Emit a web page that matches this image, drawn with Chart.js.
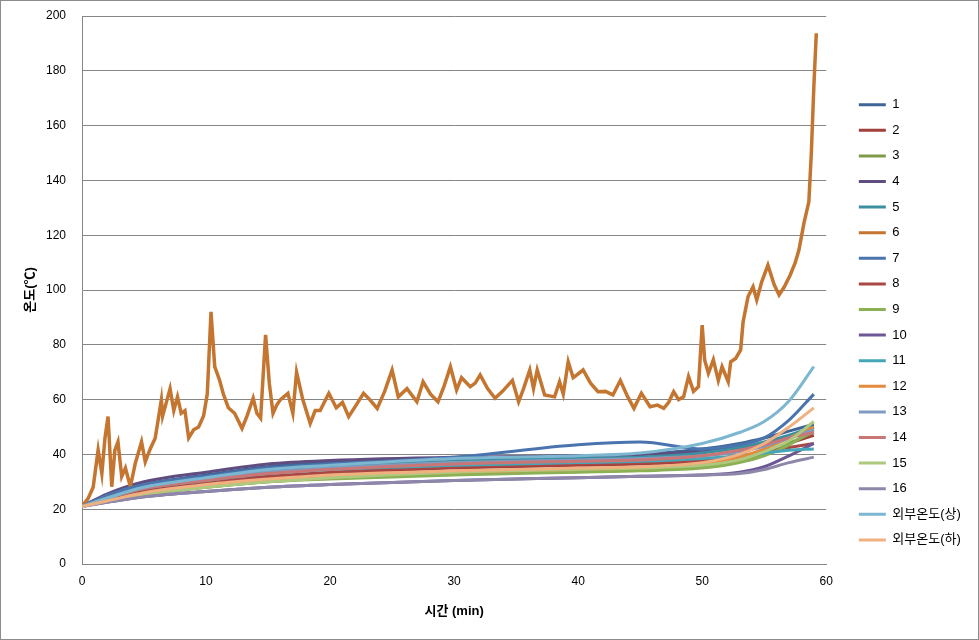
<!DOCTYPE html>
<html>
<head>
<meta charset="utf-8">
<script src="https://cdn.jsdelivr.net/npm/chart.js@4"></script>
<style>
  html, body { margin: 0; padding: 0; background: #fff; }
  #wrap { width: 979px; height: 640px; box-sizing: border-box; border: 1px solid #8c8c8c; }
</style>
</head>
<body>
<div id="wrap"><canvas id="grafico" width="977" height="638"></canvas></div>
<script>
// series names (legend order)
const nomes = ["1","2","3","4","5","6","7","8","9","10","11","12","13","14","15","16","외부온도(상)","외부온도(하)"];
const cores = ["#3F6597","#A13F3C","#7E9B4A","#5F4D80","#3B8FA0","#C47530","#4A74AE","#A94744","#8CB054","#6C5894","#45A6B8","#E48A3C","#7F9BC0","#C87676","#AEC97E","#8E87AA","#7CB6D0","#F0B080"];

// time (min) for the smooth sensors
const tempo = [0, 2, 5, 10, 15, 20, 30, 40, 45, 50, 53, 55, 57, 59];
const s1  = [21, 25, 29, 32.5, 35.5, 37, 38.5, 39.5, 40, 42, 44, 46, 48.5, 51];
const s2  = [21, 23.5, 26.5, 29.5, 31.5, 33, 35, 36, 36.5, 37.5, 39, 41, 44, 47];
const s3  = [21, 23, 25.5, 28, 30, 31.5, 33, 34, 34.5, 35.5, 37.5, 40, 44, 48];
const s4  = [21, 25.5, 30, 33.5, 36.5, 37.8, 39, 39.5, 40, 41, 42.5, 44, 46.5, 50];
const s5  = [21, 24.5, 28.5, 31.5, 34, 35.5, 37.5, 38.5, 39, 40.5, 42.5, 44.5, 47, 50];
const s7  = [21, 25, 29, 32, 35, 36.5, 39, 43.5, 44.5, 42, 43.5, 46, 52.5, 62];
const s8  = [21, 23.5, 27, 30, 32, 33.5, 35.5, 36.5, 37, 38, 39.5, 41, 42.5, 44];
const s9  = [21, 23, 25.5, 28, 30, 31, 32.5, 33.5, 34, 35, 37, 39.5, 43.5, 49];
const s10 = [21, 22.5, 24.5, 26.5, 28, 29, 30.5, 31.5, 32, 32.5, 33.5, 35.5, 39.5, 44];
const s11 = [21, 24, 27.5, 30.5, 33, 34.5, 36, 37, 37.5, 38.5, 39.5, 40.5, 41.5, 42];
const s12 = [21, 23, 25.5, 28.5, 30.5, 32, 33.5, 34.5, 35, 36.5, 39, 42, 46, 50];
const s13 = [21, 24, 28, 31, 33.5, 35, 37, 38, 38.5, 39.5, 41, 43, 46, 49];
const s14 = [21, 24, 27.5, 30.5, 33, 34.5, 36.5, 37.5, 38, 39.5, 41.5, 43.5, 46, 48];
const s15 = [21, 23, 25.5, 28, 30, 31.5, 33.5, 34.5, 35, 36, 38, 41, 45, 52];
const s16 = [21, 22.5, 24.5, 26.5, 28, 29, 30.5, 31.5, 32, 32.5, 33, 34.5, 37, 39];
const sCima  = [21, 24, 28, 31.5, 34.5, 36, 38.5, 39.5, 40.5, 44, 48, 52, 59.5, 72];
const sBaixo = [21, 23, 26, 29, 31, 32.5, 34, 35, 35.5, 37, 40, 44, 50, 57];

// sensor 6 (noisy) has its own time base
const tempo6 = [0,0.5,0.9,1.3,1.6,1.85,2.1,2.4,2.65,2.9,3.2,3.5,3.9,4.3,4.8,5.1,5.5,5.9,6.4,6.5,6.8,7.1,7.4,7.7,8.0,8.3,8.6,9.0,9.4,9.8,10.1,10.4,10.7,11.1,11.4,11.8,12.3,12.9,13.3,13.8,14.1,14.4,14.8,15.1,15.4,15.7,16.0,16.6,17.0,17.3,17.8,18.4,18.8,19.2,19.9,20.5,21.0,21.5,22.1,22.7,23.2,23.8,24.4,25.0,25.5,26.2,27.0,27.5,28.1,28.7,29.2,29.7,30.2,30.6,31.3,31.7,32.1,32.7,33.3,33.9,34.7,35.2,35.6,36.1,36.4,36.7,37.3,38.1,38.5,38.8,39.2,39.6,39.9,40.4,41.0,41.6,42.2,42.8,43.4,44.0,44.5,45.1,45.8,46.4,46.9,47.3,47.7,48.1,48.5,48.9,49.3,49.7,50.0,50.2,50.5,50.9,51.3,51.6,52.1,52.3,52.7,53.1,53.3,53.7,54.1,54.4,54.8,55.3,55.8,56.2,56.6,57.1,57.5,57.8,58.2,58.6,58.8,59.0,59.2];
const s6 = [21,24,28,41.6,33,45.9,53.8,28.2,41.6,44.6,31.9,35,28.2,36.8,44.6,37.3,42,45.9,59.9,54,59,64,56,61,55,56,46,49,50,54,62,92,72,67,62,57,55,49.5,54,60.5,55,53.2,83.6,66,55,58,60,62.3,55,70,60,51.3,56,56,62.3,57,59,53.8,58,62.3,60,56.8,63,70.8,61,64,59.2,66.5,62,59.2,65,72,63.5,68,64.7,66,69,64,60.5,63,67,59.2,64,70.8,64,70.8,61.7,61,66.5,62,73.8,68,69,70.8,66,62.9,63,61.7,67,61,56.8,62.3,57.4,58,56.8,59,62.9,60,61,68.4,63,64.7,87.2,74.5,69.6,74.5,67,72,66.5,73.8,75,78.1,88.4,97.6,101.2,96.4,103,109.1,102,98.2,101,105.5,110,114.6,124.3,132.2,150,174,193.7];

const series = [s1,s2,s3,s4,s5,s6,s7,s8,s9,s10,s11,s12,s13,s14,s15,s16,sCima,sBaixo];

const fonte = "'Liberation Sans', 'Noto Sans CJK KR', Arial, sans-serif";
const cinza = "#868686";

const datasets = series.map((valores, i) => {
  const tt = i === 5 ? tempo6 : tempo;
  return {
    label: nomes[i],
    data: valores.map((v, k) => ({ x: tt[k], y: v })),
    borderColor: cores[i],
    backgroundColor: cores[i],
    borderWidth: i === 5 ? 3.5 : 3,
    pointRadius: 0,
    tension: 0,
    cubicInterpolationMode: i === 5 ? "default" : "monotone",
    order: -i
  };
});

new Chart(document.getElementById("grafico"), {
  type: "line",
  data: { datasets },
  options: {
    responsive: false,
    animation: false,
    layout: { padding: { top: 15, left: 22, right: 0, bottom: 14 } },
    plugins: {
      tooltip: { enabled: false },
      legend: {
        position: "right",
        title: { display: true, text: " ", font: { size: 3 }, padding: 0 },
        labels: {
          font: { family: fonte, size: 13 },
          color: "#000",
          boxWidth: 27,
          boxHeight: 3,
          padding: 12.6,
          sort: (a, b) => a.datasetIndex - b.datasetIndex,
          generateLabels: chart => Chart.defaults.plugins.legend.labels.generateLabels(chart)
            .map(l => ({ ...l, text: l.text + "  ", lineWidth: 0, fillStyle: cores[l.datasetIndex] }))
        }
      }
    },
    scales: {
      x: {
        type: "linear",
        min: 0, max: 60,
        ticks: { stepSize: 10, padding: 10, color: "#000", font: { family: fonte, size: 12 } },
        grid: { display: false, drawTicks: false },
        border: { color: cinza },
        title: { display: true, text: "시간 (min)", color: "#000", font: { family: fonte, size: 13, weight: "bold" }, padding: { top: 4, bottom: 6 } },
        afterFit: s => { s.height = 61; }
      },
      y: {
        min: 0, max: 200,
        ticks: { stepSize: 20, padding: 16, color: "#000", font: { family: fonte, size: 12 } },
        grid: { color: cinza, drawTicks: false },
        border: { color: cinza },
        title: { display: true, text: "온도(℃)", color: "#000", font: { family: fonte, size: 13, weight: "bold" }, padding: 0 },
        afterFit: s => { s.width = 59; s.paddingTop = 0; }
      },
      y2: {
        position: "right",
        display: true,
        ticks: { display: false },
        grid: { display: false, drawTicks: false },
        border: { display: false },
        afterFit: s => { s.width = 20; s.paddingTop = 0; s.paddingBottom = 0; }
      }
    }
  }
});
</script>
</body>
</html>
